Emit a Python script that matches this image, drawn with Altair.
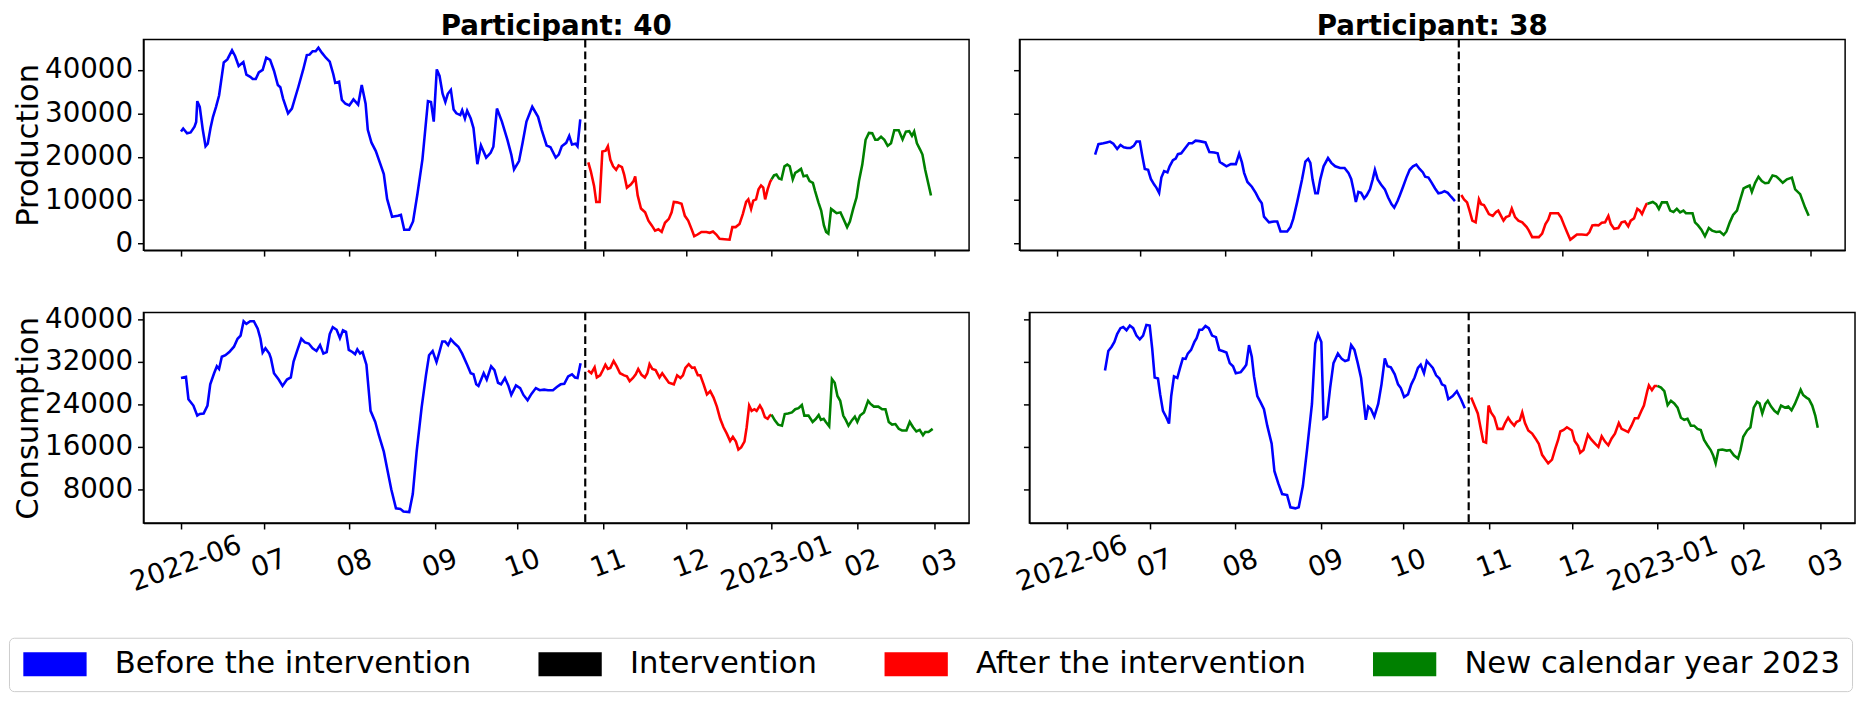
import altair as alt
import pandas as pd

# ---------------- data ----------------
BASE_DATE = "2022-06-01"          # day 0 of the day-offset arrays
NEW_YEAR_DAY = 214                # 2023-01-01 as day offset
INTERVENTION_DAY = {"40": 146.5, "38": 145.6}

MONTH_KEYS = ["2022-06", "2022-07", "2022-08", "2022-09", "2022-10",
              "2022-11", "2022-12", "2023-01", "2023-02", "2023-03"]
MONTH_LABELS = ["2022-06", "07", "08", "09", "10", "11", "12", "2023-01", "02", "03"]

SEGMENTS = ["Before the intervention", "Intervention",
            "After the intervention", "New calendar year 2023"]
SEG_COLORS = ["blue", "black", "red", "green"]

PROD_TICKS = [0, 10000, 20000, 30000, 40000]
CONS_TICKS = [8000, 16000, 24000, 32000, 40000]

# Participant 40 - Production
P40_PROD_DAYS = [0.0, 0.8, 2.2, 3.5, 4.9, 5.5, 5.9, 6.8, 7.9, 8.9, 9.7, 10.7, 11.6, 12.7, 13.8, 15.5, 16.8, 18.5,
                 19.6, 20.9, 22.6, 23.7, 25.1, 26.0, 27.1, 28.2, 29.6, 30.9, 32.3, 33.7, 35.1, 36.0, 37.0, 38.8,
                 40.2, 41.6, 42.5, 44.3, 45.6, 46.6, 47.7, 48.8, 49.8, 51.1, 52.5, 53.9, 55.2, 55.9, 57.3, 58.3,
                 59.6, 61.0, 62.5, 64.2, 65.5, 66.9, 67.7, 69.0, 70.6, 72.1, 73.5, 74.7, 76.5, 78.6, 79.7, 80.9,
                 82.7, 84.1, 85.7, 87.5, 89.5, 90.6, 91.6, 92.7, 93.7, 94.8, 95.8, 96.7, 97.8, 98.8, 99.8, 101.2,
                 101.9, 102.9, 103.7, 105.0, 106.0, 107.4, 108.7, 110.6, 112.2, 113.2, 114.5, 116.3, 118.3, 119.7,
                 120.7, 122.5, 123.8, 125.2, 127.3, 129.4, 130.7, 132.5, 133.9, 135.8, 136.9, 138.0, 139.6, 140.7,
                 141.7, 143.0, 143.7, 144.7,
                 147.6, 148.5, 149.7, 150.5, 151.7, 152.7, 153.9, 154.7, 155.6, 156.6, 157.7, 158.6, 159.8, 160.6,
                 161.6, 163.0, 164.0, 164.6, 165.5, 166.7, 168.2, 169.4, 170.6, 171.8, 173.0, 174.2, 175.4, 176.8,
                 177.8, 178.6, 179.8, 181.4, 182.6, 183.8, 185.0, 186.0, 187.2, 188.6, 190.4, 191.6, 192.8, 194.0,
                 195.2, 197.0, 198.8, 199.8, 201.0, 202.4, 203.6, 204.8, 205.6, 206.6, 207.4, 208.4, 209.3, 210.2,
                 211.0, 211.7, 212.6, 213.5,
                 214.0, 214.9, 215.8, 216.7, 217.6, 218.7, 219.7, 220.6, 221.7, 222.6, 223.6, 224.7, 225.6, 226.8,
                 227.8, 229.0, 229.8, 231.0, 232.0, 233.0, 233.8, 234.6, 235.6, 236.4, 237.6, 239.0, 240.0, 241.4,
                 242.4, 243.6, 244.8, 245.7, 246.9, 248.1, 249.3, 250.5, 251.6, 252.5, 253.7, 254.9, 256.1, 257.3,
                 258.5, 260.1, 261.5, 262.7, 263.9, 264.9, 265.7, 266.7, 267.9, 268.7, 269.7, 270.9, 271.8]
P40_PROD_VALS = [25800, 26500, 25400, 25600, 26900, 28000, 32800, 31500, 26200, 22400, 23000, 26600, 29200, 31500,
                 34100, 41700, 42400, 44500, 43200, 40900, 41800, 38900, 38400, 37900, 37900, 39400, 40000, 42800,
                 42300, 39800, 36500, 36000, 33400, 30000, 31100, 34100, 36000, 40100, 43400, 43500, 44300, 44300,
                 45100, 43900, 42800, 41900, 39000, 37000, 37300, 33100, 32200, 31800, 33200, 32000, 36500, 32200,
                 26200, 23300, 21300, 18600, 16000, 10300, 6200, 6400, 6600, 3200, 3200, 5100, 11500, 19400, 32800,
                 32600, 28100, 40100, 38600, 34500, 32600, 34500, 35400, 30900, 30000, 29600, 30700, 28800, 30600,
                 28800, 26600, 18300, 22600, 19800, 20900, 22300, 31100, 28100, 23900, 20500, 17100, 19000, 23200,
                 28100, 31500, 29200, 26200, 22600, 22200, 19800, 20500, 22400, 23200, 24800, 22800, 23000, 22400,
                 28600,
                 18700, 16700, 13300, 9600, 9600, 21200, 21400, 22400, 19300, 17800, 17000, 18000, 17600, 15900,
                 12900, 13600, 14400, 15500, 11100, 8100, 7200, 5300, 4200, 3000, 3300, 2700, 4800, 5700, 7200,
                 9600, 9500, 9200, 6400, 5300, 3400, 1700, 2100, 2700, 2700, 2500, 2800, 2100, 1100, 1000, 900,
                 3800, 3800, 4500, 6800, 9600, 10200, 8000, 9900, 10200, 12500, 13400, 12900, 10200, 12500, 14200,
                 14800, 15700, 15900, 15000, 14800, 17800, 18200, 17800, 14800, 16300, 16700, 17200, 15500, 15700,
                 14400, 14000, 12100, 9500, 7600, 4200, 2700, 2300, 8000, 7600, 7000, 7200, 5800, 3800, 5100, 8000,
                 10600, 14400, 18200, 23900, 25500, 25400, 23900, 23900, 24600, 23900, 22500, 23100, 26100, 26100,
                 24000, 25800, 25900, 24800, 25800, 23100, 21600, 20500, 17000, 13600, 11100]

# Participant 38 - Production
P38_PROD_DAYS = [13.8, 15.0, 16.8, 18.0, 19.2, 20.4, 21.8, 23.0, 24.2, 25.4, 26.6, 27.8, 28.8, 30.0, 30.9, 31.8,
                 33.0, 34.0, 35.2, 36.0, 37.0, 37.8, 38.8, 40.0, 40.8, 42.0, 43.0, 43.8, 45.0, 46.2, 47.8, 49.0,
                 50.2, 51.6, 53.8, 55.2, 57.0, 58.2, 59.0, 60.2, 61.4, 63.0, 64.8, 66.0, 67.0, 67.8, 69.0, 70.6,
                 72.0, 73.2, 74.2, 75.0, 76.8, 78.6, 79.8, 81.0, 83.4, 84.6, 85.6, 87.0, 88.8, 90.0, 91.0, 91.8,
                 92.6, 93.6, 94.5, 95.4, 96.6, 98.2, 99.4, 100.8, 102.6, 104.2, 105.6, 106.6, 107.4, 108.3, 109.2,
                 110.2, 111.3, 112.2, 113.4, 114.4, 115.2, 116.2, 117.4, 118.8, 120.0, 121.2, 122.2, 123.4, 124.2,
                 125.4, 126.6, 127.8, 129.0, 130.2, 131.4, 132.6, 133.4, 134.6, 135.8, 137.0, 138.2, 139.2, 140.4,
                 141.6, 142.8, 144.2,
                 146.5, 147.5, 148.6, 149.5, 150.5, 151.7, 152.9, 153.7, 154.7, 155.5, 156.5, 157.9, 159.1, 159.9,
                 160.9, 161.8, 162.7, 163.9, 164.8, 166.0, 167.2, 168.6, 170.2, 171.0, 172.2, 174.6, 175.8, 177.0,
                 178.0, 178.8, 180.0, 181.6, 182.6, 183.8, 184.8, 186.0, 187.2, 188.4, 190.2, 192.0, 192.9, 194.0,
                 195.0, 196.2, 197.4, 198.6, 199.8, 200.7, 201.9, 203.4, 204.6, 205.8, 207.0, 207.9, 209.1, 210.3,
                 211.2, 212.0, 213.0, 213.6,
                 214.0, 215.9, 217.1, 218.1, 219.2, 221.0, 222.2, 223.4, 224.6, 225.8, 227.0, 227.9, 229.1, 230.3,
                 231.2, 232.3, 233.5, 234.8, 236.2, 237.4, 238.9, 240.2, 241.6, 242.6, 243.8, 245.0, 246.4, 247.6,
                 248.8, 250.0, 251.0, 251.8, 253.0, 254.2, 255.4, 256.6, 257.8, 259.3, 260.6, 261.8, 263.0, 264.5,
                 266.3, 267.5, 269.3, 271.1, 272.4]
P38_PROD_VALS = [20500, 22900, 23100, 23300, 23500, 23000, 21800, 22700, 22200, 22000, 22000, 22500, 23500, 23500,
                 20200, 17200, 17000, 14900, 13600, 12900, 11700, 15200, 16700, 16400, 17800, 19200, 19600, 20600,
                 20800, 21800, 23100, 23100, 23700, 23600, 23300, 21100, 21000, 20800, 18800, 18300, 17800, 18300,
                 18300, 20700, 18700, 16300, 14200, 13100, 11700, 10200, 9300, 6200, 4900, 5100, 5100, 2800, 2800,
                 3800, 5700, 9500, 14800, 18900, 19500, 18600, 14800, 11600, 11600, 14800, 17800, 19700, 18600,
                 17800, 17400, 17400, 16300, 14900, 12500, 9600, 11900, 11700, 10400, 11100, 12500, 14800, 17000,
                 14800, 13600, 12500, 10600, 9100, 8300, 9800, 11100, 13100, 15200, 17000, 17800, 18200, 17200,
                 16400, 15400, 15200, 14000, 12700, 11600, 11700, 12100, 11700, 10800, 9800,
                 11200, 10200, 9500, 7600, 5300, 4900, 10200, 9100, 8900, 8000, 6800, 6400, 7300, 7600, 6400, 5300,
                 6100, 6400, 8100, 6100, 5300, 4900, 3800, 3000, 1500, 1500, 2300, 4500, 5500, 7000, 7000, 7000,
                 6100, 4200, 2700, 900, 1500, 2100, 2100, 2000, 2600, 4200, 4300, 4200, 4800, 4900, 6400, 4500,
                 3400, 3600, 4900, 5100, 4000, 5300, 5800, 8000, 7600, 6800, 8300, 9100,
                 9200, 9600, 9100, 8000, 9500, 9500, 7600, 7300, 8000, 7200, 7600, 7000, 7000, 7000, 4900, 4200,
                 3200, 1700, 3600, 3000, 2700, 2800, 2000, 2800, 4900, 6600, 7600, 10200, 12700, 13100, 13400,
                 11900, 14000, 15400, 14400, 13900, 14000, 15700, 15500, 14800, 14000, 14800, 15200, 12500, 11400,
                 8300, 6400]

# Participant 40 - Consumption
P40_CONS_DAYS = [0.0, 1.8, 2.7, 4.5, 5.9, 6.8, 8.2, 9.6, 10.6, 12.0, 13.0, 13.8, 14.8, 16.1, 17.5, 19.2, 20.5, 21.6,
                 22.7, 23.7, 25.1, 26.4, 27.8, 28.8, 29.6, 30.6, 32.0, 32.6, 33.7, 35.4, 36.8, 38.4, 39.8, 40.8,
                 42.2, 43.6, 44.9, 46.3, 47.7, 49.1, 50.4, 51.6, 52.8, 53.9, 55.0, 56.4, 57.6, 58.7, 59.8, 60.8,
                 62.1, 63.1, 63.9, 64.9, 65.8, 67.2, 68.7, 70.4, 71.7, 73.5, 74.9, 76.2, 77.9, 79.5, 80.6, 82.7,
                 84.0, 85.4, 87.2, 88.8, 89.9, 91.2, 92.6, 93.6, 94.7, 95.7, 96.8, 97.8, 99.2, 100.5, 101.9, 103.7,
                 105.0, 106.0, 107.0, 107.8, 109.0, 109.7, 110.8, 112.4, 113.6, 114.9, 116.0, 117.4, 118.6, 119.7,
                 121.4, 122.9, 124.1, 125.6, 127.0, 128.6, 130.0, 131.6, 133.0, 134.8, 136.2, 137.6, 138.9, 140.3,
                 141.7, 142.8, 143.7, 144.8,
                 147.5, 148.7, 149.9, 150.7, 151.9, 152.9, 153.8, 154.7, 155.6, 156.8, 157.9, 159.1, 160.6, 161.6,
                 162.6, 163.8, 164.8, 165.7, 166.9, 168.1, 169.0, 169.8, 170.8, 172.0, 173.4, 174.4, 175.6, 176.8,
                 178.6, 179.8, 181.0, 181.9, 182.8, 184.0, 185.2, 186.1, 187.3, 188.2, 189.4, 190.6, 191.8, 193.0,
                 194.2, 195.4, 196.6, 197.8, 199.0, 200.0, 201.1, 202.0, 203.0, 204.2, 205.0, 205.9, 206.8, 207.8,
                 208.6, 209.8, 210.6, 211.6, 212.6, 213.4,
                 214.0, 215.2, 216.4, 217.8, 218.8, 220.0, 221.4, 222.6, 223.8, 225.0, 225.9, 227.4, 228.9, 230.1,
                 231.1, 231.9, 232.9, 233.7, 234.9, 235.9, 236.9, 237.9, 238.9, 240.0, 240.9, 241.9, 243.1, 244.2,
                 245.1, 246.1, 247.5, 249.0, 249.9, 251.1, 252.7, 254.1, 255.3, 256.5, 257.7, 258.9, 260.1, 261.3,
                 262.9, 264.1, 265.3, 266.5, 267.7, 268.9, 269.7, 270.9, 272.4]
P40_CONS_VALS = [29000, 29200, 25000, 23800, 21900, 22200, 22300, 23800, 27800, 29900, 31200, 30700, 33000, 33300,
                 33900, 34900, 36400, 37000, 39700, 39200, 39700, 39700, 38300, 36400, 33800, 34600, 33600, 32700,
                 29900, 28700, 27500, 28700, 29100, 32100, 34300, 36400, 35700, 35500, 34600, 34100, 35200, 33600,
                 33900, 37300, 38600, 38100, 36500, 38000, 37700, 34300, 33900, 33500, 34400, 33600, 33900, 31500,
                 22800, 20700, 18200, 15100, 11400, 8000, 4400, 4300, 3800, 3700, 7100, 15100, 23400, 29600, 33300,
                 34100, 32000, 33800, 35900, 35900, 35200, 36300, 35500, 34900, 33600, 31500, 29900, 29700, 27800,
                 27500, 29000, 29900, 28700, 31200, 30500, 28100, 27800, 29000, 27600, 25800, 27600, 27100, 25800,
                 24800, 26000, 27100, 26700, 26800, 26700, 26700, 27300, 27800, 27900, 29300, 29700, 29100, 29000,
                 31800,
                 30400, 29900, 31000, 29100, 29500, 30500, 31500, 30700, 30900, 32200, 31200, 29900, 29500, 29300,
                 28400, 29000, 29700, 30700, 29600, 29100, 29900, 31600, 30700, 30500, 29100, 29900, 29000, 28100,
                 27800, 29500, 29000, 29500, 30900, 31600, 30900, 31000, 29500, 29500, 27800, 25900, 26500, 25300,
                 23600, 21300, 19700, 18500, 17100, 17900, 17000, 15500, 15900, 17000, 19700, 23800, 22800, 23100,
                 22800, 23800, 23100, 21600, 21300, 21900,
                 22100, 21000, 20200, 20000, 22200, 22300, 22500, 23100, 23300, 23900, 21900, 21900, 20700, 21300,
                 22000, 21100, 21300, 20700, 19900, 28800, 28100, 25600, 24700, 21900, 21100, 20000, 21000, 21700,
                 20700, 21900, 22500, 24700, 24100, 23600, 23600, 23100, 23100, 20700, 20200, 20300, 19400, 19100,
                 19100, 20700, 19700, 18900, 19200, 18200, 18800, 18800, 19400]

# Participant 38 - Consumption
P38_CONS_DAYS = [13.8, 15.0, 16.2, 17.2, 18.2, 19.4, 20.4, 21.6, 22.8, 24.0, 25.2, 26.4, 27.6, 28.8, 30.0, 30.9,
                 31.8, 33.0, 33.8, 34.8, 36.0, 37.0, 37.8, 38.8, 40.0, 41.0, 42.0, 43.0, 43.8, 45.0, 46.2, 47.0,
                 48.0, 49.0, 50.2, 51.4, 52.6, 54.0, 55.2, 56.4, 57.8, 59.0, 60.2, 61.2, 63.0, 64.2, 65.0, 66.0,
                 67.0, 67.8, 69.0, 70.2, 71.4, 72.6, 74.2, 75.2, 76.6, 78.0, 79.8, 81.0, 82.8, 84.0, 85.5, 87.0,
                 88.8, 90.0, 91.0, 92.2, 93.0, 94.2, 95.4, 96.6, 98.2, 99.6, 100.8, 102.0, 103.0, 104.2, 105.4,
                 106.6, 107.4, 108.3, 109.2, 110.2, 111.4, 112.8, 114.0, 115.2, 116.2, 117.4, 118.8, 120.0, 121.0,
                 122.2, 123.6, 124.8, 126.0, 127.2, 128.2, 129.4, 130.4, 131.6, 132.6, 133.8, 135.0, 135.9, 137.0,
                 138.2, 139.8, 141.3, 142.8, 144.2,
                 146.5, 147.7, 148.9, 150.1, 150.9, 151.9, 152.8, 153.7, 154.9, 156.1, 157.9, 158.8, 159.9, 160.9,
                 162.1, 162.9, 164.1, 165.0, 166.0, 167.2, 168.6, 169.8, 171.0, 172.2, 173.4, 174.4, 175.8, 177.0,
                 178.0, 178.8, 180.0, 181.2, 183.0, 184.0, 185.2, 186.0, 187.2, 188.8, 190.0, 191.4, 192.6, 193.8,
                 195.0, 196.2, 197.4, 198.6, 200.0, 201.0, 202.2, 203.4, 204.6, 205.8, 207.0, 208.2, 209.1, 210.3,
                 210.9, 212.0, 213.0, 213.6,
                 214.0, 215.3, 216.5, 217.7, 218.9, 220.1, 221.3, 222.5, 223.7, 224.9, 226.1, 227.3, 228.5, 229.7,
                 230.9, 232.1, 233.3, 234.2, 235.1, 236.1, 237.5, 239.1, 240.3, 241.7, 243.2, 244.1, 245.1, 246.5,
                 247.7, 248.9, 250.1, 251.0, 252.0, 253.1, 254.0, 255.2, 256.4, 257.6, 258.8, 260.2, 261.4, 262.6,
                 263.8, 265.0, 265.9, 266.8, 268.0, 268.9, 270.1, 271.2, 272.1]
P38_CONS_VALS = [30400, 34100, 34900, 35800, 37300, 38400, 38600, 38000, 38900, 38400, 37000, 36300, 37000, 39000,
                 38900, 34600, 29100, 28900, 25900, 22800, 21600, 20400, 25600, 29300, 29000, 30900, 32700, 32600,
                 33600, 34300, 35800, 36500, 38100, 38100, 38800, 38400, 37000, 36700, 34300, 34100, 33800, 31800,
                 31200, 29900, 30100, 30900, 31500, 35200, 33000, 29300, 25600, 24400, 23100, 20000, 16600, 11400,
                 9100, 7100, 6900, 4600, 4400, 4600, 8600, 15400, 24100, 35500, 37300, 35800, 21300, 21700, 27200,
                 31800, 33600, 32600, 32200, 32400, 35200, 34300, 31800, 29000, 25300, 21100, 23600, 23100, 21700,
                 24100, 27800, 32700, 31200, 31000, 29700, 27800, 27100, 25400, 25900, 27800, 29100, 30900, 31500,
                 29900, 32200, 31500, 30900, 29500, 28900, 27800, 27500, 25000, 25600, 26500, 25000, 23300,
                 25300, 23800, 22300, 19100, 17000, 16800, 23800, 22500, 21600, 19400, 19400, 20500, 21500, 20700,
                 20000, 20700, 21000, 22500, 20500, 19100, 18500, 17600, 16600, 14500, 13600, 12900, 13600, 15700,
                 17300, 18900, 19200, 19700, 19100, 17100, 16200, 14900, 15400, 18300, 17400, 16600, 16000, 18000,
                 17000, 16300, 17600, 18500, 20500, 19400, 19100, 18800, 20000, 21400, 21400, 22800, 23800, 26500,
                 27600, 26700, 27500, 27500,
                 27500, 27200, 26500, 23900, 24700, 24200, 23400, 21500, 21100, 21300, 20000, 20000, 19400, 19200,
                 17300, 16300, 15400, 14400, 12900, 15400, 15500, 15300, 15400, 14400, 13800, 15400, 17900, 19100,
                 19700, 23400, 24500, 24200, 22300, 24100, 24700, 23600, 22800, 22300, 23800, 23400, 23600, 22900,
                 24100, 25600, 26800, 25800, 25300, 25000, 23800, 21900, 19600]

# ---------------- derived helpers ----------------
DAY_MS = 86400000
BASE_MS = int(pd.Timestamp(BASE_DATE).value // 10**6)
TICK_MS = [int(pd.Timestamp(k + "-01").value // 10**6) for k in MONTH_KEYS]
X_DOMAIN = [BASE_MS - 13.6 * DAY_MS, BASE_MS + 285.6 * DAY_MS]
PROD_DOMAIN = [-1500, 46980]
CONS_DOMAIN = [1625, 41366]

FONT = "DejaVu Sans"


def to_frame(days, vals, pid):
    rows = []
    iday = INTERVENTION_DAY[pid]
    first_green = None
    for d, v in zip(days, vals):
        if d < iday:
            seg = SEGMENTS[0]
        elif d < NEW_YEAR_DAY:
            seg = SEGMENTS[2]
        else:
            seg = SEGMENTS[3]
            if first_green is None:
                first_green = (d, v)
        rows.append({"t": BASE_MS + d * DAY_MS, "v": v, "seg": seg})
    if first_green is not None:   # join red and green segments
        rows.append({"t": BASE_MS + first_green[0] * DAY_MS, "v": first_green[1], "seg": SEGMENTS[2]})
    return pd.DataFrame(rows)


keys_js = "[" + ",".join("'%s'" % k for k in MONTH_KEYS) + "]"
labels_js = "[" + ",".join("'%s'" % k for k in MONTH_LABELS) + "]"
label_expr = "%s[indexof(%s, utcFormat(datum.value, '%%Y-%%m'))]" % (labels_js, keys_js)

# legend patch: a 64 x 24 px bar drawn as stacked 2.4 px strokes (looks filled)
PATCH_PATH = "".join("M-32,%dH32" % yy for yy in range(-11, 12, 2))

legend = alt.Legend(
    orient="none", legendX=-136, legendY=605, direction="horizontal", title=None,
    symbolType=PATCH_PATH, symbolSize=4, symbolStrokeWidth=2.4, symbolOffset=20,
    labelFontSize=31, labelFont=FONT, labelColor="black", labelOffset=45, labelLimit=0,
    columnPadding=62, padding=11, strokeColor="#cccccc", fillColor="white",
    cornerRadius=5, values=SEGMENTS,
)
color = alt.Color("seg:N", scale=alt.Scale(domain=SEGMENTS, range=SEG_COLORS), legend=legend)


def panel(days, vals, pid, metric, ticks, ydomain, show_x, show_y, title=None):
    df = to_frame(days, vals, pid)
    rule_df = pd.DataFrame({"t": [BASE_MS + INTERVENTION_DAY[pid] * DAY_MS], "seg": [SEGMENTS[1]]})
    xaxis = alt.Axis(values=TICK_MS, labels=show_x, title=None, labelExpr=label_expr,
                     labelAngle=340, labelAlign="center", labelBaseline="top",
                     labelPadding=22, labelFontSize=28, tickSize=6, grid=False)
    x = alt.X("t:T", scale=alt.Scale(type="utc", domain=X_DOMAIN, nice=False), axis=xaxis)
    yaxis = alt.Axis(values=ticks, labels=show_y, title=metric if show_y else None, format="d",
                     labelFontSize=28, titleFontSize=31, titleFontWeight="normal",
                     labelPadding=5, titlePadding=0, tickSize=6, grid=False)
    y = alt.Y("v:Q", scale=alt.Scale(domain=ydomain, nice=False, zero=False), axis=yaxis)
    line = alt.Chart(df).mark_line(clip=True).encode(
        x=x, y=y, color=color, strokeWidth=alt.value(2.6))
    rule = alt.Chart(rule_df).mark_rule().encode(
        x=x, color=color, strokeWidth=alt.value(2.2), strokeDash=alt.value([8, 4]))
    ch = alt.layer(line, rule).properties(width=835, height=213)
    if title:
        ch = ch.properties(title=alt.TitleParams(title, fontSize=28, fontWeight="bold", font=FONT,
                                                 anchor="middle", color="black", offset=-2))
    return ch


tl = panel(P40_PROD_DAYS, P40_PROD_VALS, "40", "Production", PROD_TICKS, PROD_DOMAIN, False, True,
           "Participant: 40")
tr = panel(P38_PROD_DAYS, P38_PROD_VALS, "38", "Production", PROD_TICKS, PROD_DOMAIN, False, False,
           "Participant: 38")
bl = panel(P40_CONS_DAYS, P40_CONS_VALS, "40", "Consumption", CONS_TICKS, CONS_DOMAIN, True, True)
br = panel(P38_CONS_DAYS, P38_CONS_VALS, "38", "Consumption", CONS_TICKS, CONS_DOMAIN, True, False)

chart = alt.vconcat(
    alt.hconcat(tl, tr, spacing=42),
    alt.hconcat(bl, br, spacing=42),
    spacing=46,
).properties(
    padding={"left": 0, "top": 0, "right": 0, "bottom": 0}
).configure(
    font=FONT,
).configure_view(
    stroke="black", strokeWidth=1.5
).configure_axis(
    labelFont=FONT, titleFont=FONT, labelColor="black", titleColor="black",
    domainColor="black", tickColor="black", domainWidth=1.5, tickWidth=1.5,
)

chart.save("out.html", embed_options={"renderer": "svg", "actions": False})
